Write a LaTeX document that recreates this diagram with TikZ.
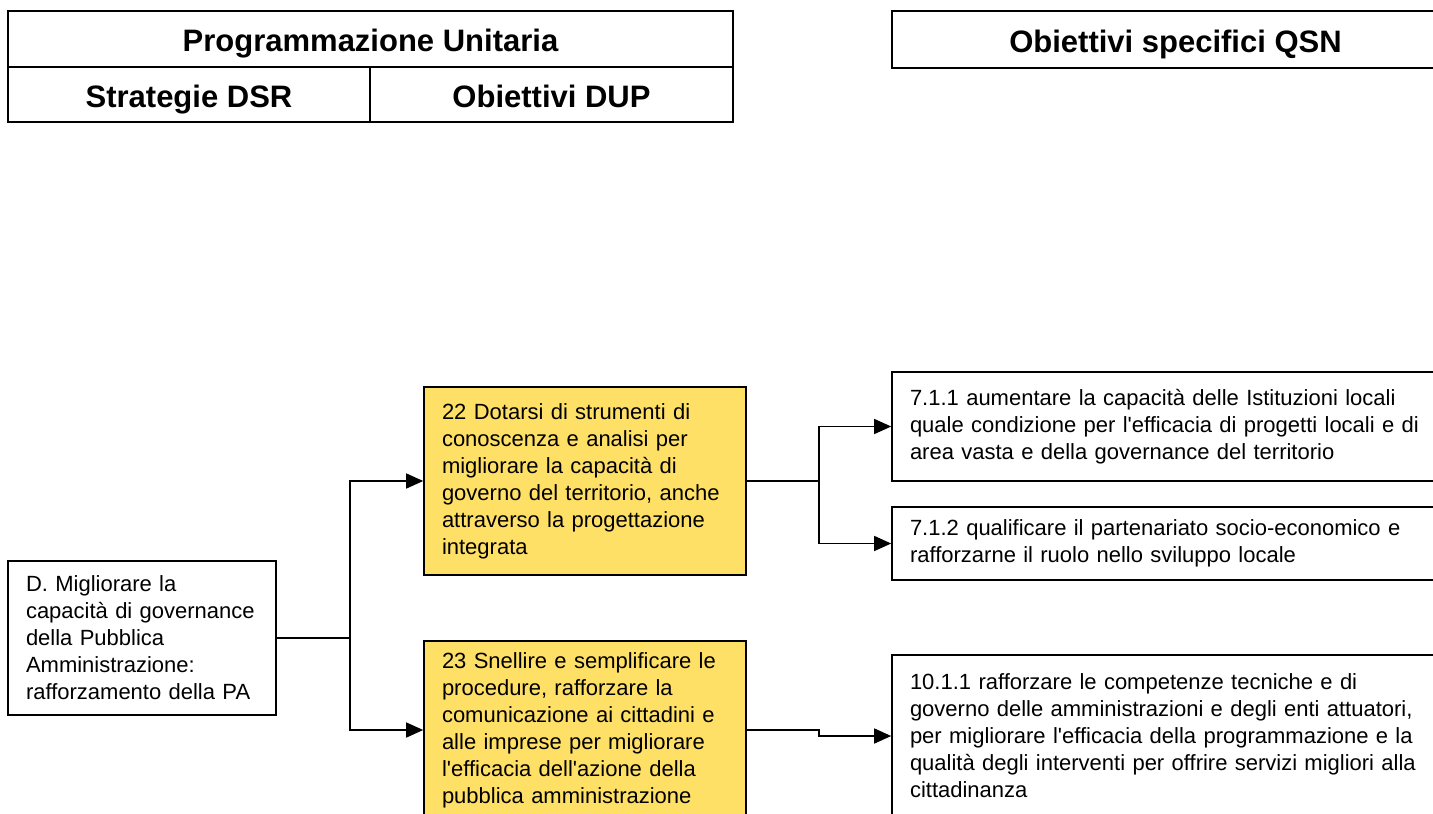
\documentclass[tikz,border=0pt]{standalone}
\usepackage{fontspec}
\setmainfont{Liberation Sans}[Ligatures=TeXOff]
\usetikzlibrary{arrows.meta}
\definecolor{boxyellow}{RGB}{255,224,102}
\begin{document}
\begin{tikzpicture}[x=0.5pt,y=-0.5pt,
  box/.style={draw, line width=0.8pt, inner ysep=0pt, inner xsep=9pt, align=left,
    font=\fontsize{11}{13.5}\selectfont},
  yellowbox/.style={box, fill=boxyellow},
  head/.style={draw, line width=0.8pt, inner sep=0pt, text height=16pt, text depth=3pt,
    font=\fontsize{15.5}{18}\selectfont\bfseries},
  link/.style={line width=0.7pt},
  arr/.style={link, -{Triangle[length=8.5pt,width=7.5pt]}}]
\useasboundingbox (0,0) rectangle (1433,813);
\clip (0,0) rectangle (1433,813);

% column headings
\node[head, minimum width=362.5pt, minimum height=28pt] (hpu) at (370.5,39) {Programmazione Unitaria};
\node[head, minimum width=181pt, minimum height=27.5pt] (hdsr) at (189,94.5) {Strategie DSR\hspace{14pt}};
\node[head, minimum width=181.5pt, minimum height=27.5pt] (hdup) at (551.5,94.5) {Obiettivi DUP};
\node[head, minimum width=283.5pt, minimum height=28.5pt] (hqsn) at (1175.5,39.5) {Obiettivi specifici QSN};

% strategy
\node[box, text width=116pt, minimum height=77pt] (d) at (142,638)
  {D. Migliorare la\\capacità di governance\\della Pubblica\\Amministrazione:\\rafforzamento della PA};

% DUP objectives
\node[yellowbox, text width=143pt, minimum height=94pt] (b22) at (585,481)
  {22 Dotarsi di strumenti di\\conoscenza e analisi per\\migliorare la capacità di\\governo del territorio, anche\\attraverso la progettazione\\integrata};
\node[yellowbox, text width=143pt, minimum height=89pt] (b23) at (585,730)
  {23 Snellire e semplificare le\\procedure, rafforzare la\\comunicazione ai cittadini e\\alle imprese per migliorare\\l'efficacia dell'azione della\\pubblica amministrazione};

% QSN specific objectives
\node[box, text width=258.5pt, minimum height=54.5pt] (q711) at (1168.5,426.5)
  {7.1.1 aumentare la capacità delle Istituzioni locali\\quale condizione per l'efficacia di progetti locali e di\\area vasta e della governance del territorio};
\node[box, text width=258.5pt, minimum height=36.5pt] (q712) at (1168.5,543.5)
  {7.1.2 qualificare il partenariato socio-economico e\\rafforzarne il ruolo nello sviluppo locale};
\node[box, text width=258.5pt, minimum height=81pt] (q1011) at (1168.5,736)
  {10.1.1 rafforzare le competenze tecniche e di\\governo delle amministrazioni e degli enti attuatori,\\per migliorare l'efficacia della programmazione e la\\qualità degli interventi per offrire servizi migliori alla\\cittadinanza};

% junction points
\coordinate (j1) at (350,638);
\coordinate (j2) at (819,481);
\coordinate (j3) at (819,736);

% connectors
\draw[link] (d.east) -- (j1);
\draw[arr] (j1) |- (b22.west);
\draw[arr] (j1) |- (b23.west);
\draw[link] (b22.east) -- (j2);
\draw[arr] (j2) |- (q711.west);
\draw[arr] (j2) |- (q712.west);
\draw[arr] (b23.east) -| (j3) -- (q1011.west);
\end{tikzpicture}
\end{document}
